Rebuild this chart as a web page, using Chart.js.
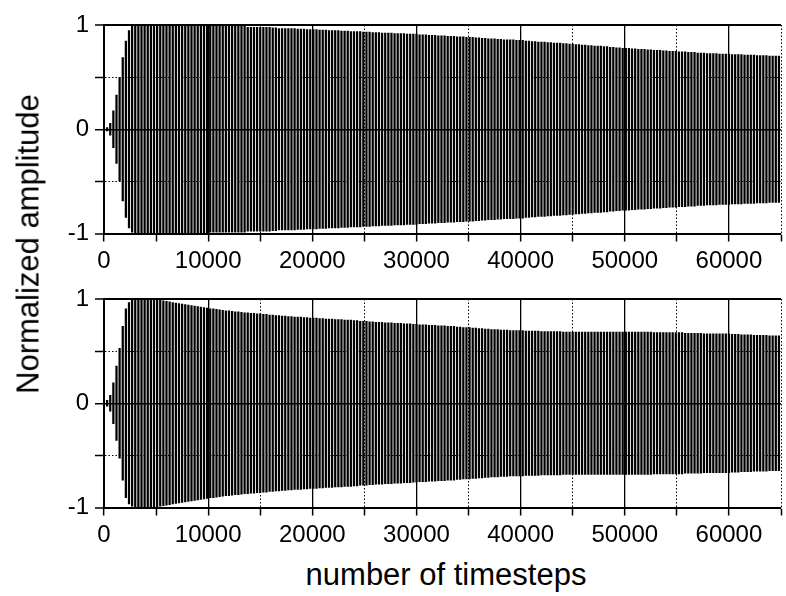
<!DOCTYPE html>
<html>
<head>
<meta charset="utf-8">
<script src="https://cdn.jsdelivr.net/npm/chart.js@4"></script>
<style>
  body { margin: 0; background: #fff; }
  #wrap { position: relative; width: 786px; height: 596px; overflow: hidden; font-family: "Liberation Sans", Arial, sans-serif; }
  .panel { position: absolute; left: 0; width: 786px; height: 274px; }
  #topPanel { top: 0; }
  #bottomPanel { top: 274px; }
  .axis-title { position: absolute; font-size: 31px; line-height: 31px; white-space: nowrap; color: #000; }
  #yTitle { left: 28px; top: 244px; transform: translate(-50%, -50%) rotate(-90deg); }
  #xTitle { left: 446px; top: 574px; transform: translate(-50%, -50%); }
</style>
</head>
<body>
<div id="wrap">
  <div class="panel" id="topPanel"><canvas id="topChart"></canvas></div>
  <div class="panel" id="bottomPanel"><canvas id="bottomChart"></canvas></div>
  <div class="axis-title" id="yTitle">Normalized amplitude</div>
  <div class="axis-title" id="xTitle">number of timesteps</div>
</div>
<script>
// one peak amplitude per oscillation cycle, cycles are sampleStep timesteps apart
const sampleStep = 300;

const topAmplitude = [
  0, 0.02, 0.06, 0.18, 0.33, 0.5, 0.69, 0.85, 0.95, 0.99,
  1, 1, 1, 1, 1, 1, 1, 1, 1, 1,
  1, 1, 1, 1, 1, 1, 1, 1, 1, 1,
  1, 1, 1, 1, 0.99, 0.99, 0.99, 0.99, 0.99, 0.99,
  0.99, 0.99, 0.99, 0.99, 0.99, 0.99, 0.98, 0.98, 0.98, 0.98,
  0.98, 0.98, 0.98, 0.98, 0.975, 0.975, 0.97, 0.97, 0.97, 0.97,
  0.97, 0.97, 0.965, 0.965, 0.965, 0.96, 0.96, 0.96, 0.96, 0.955,
  0.955, 0.955, 0.95, 0.95, 0.95, 0.95, 0.945, 0.945, 0.945, 0.94,
  0.94, 0.94, 0.94, 0.935, 0.935, 0.935, 0.93, 0.93, 0.93, 0.925,
  0.925, 0.925, 0.925, 0.92, 0.92, 0.92, 0.92, 0.915, 0.915, 0.915,
  0.915, 0.91, 0.91, 0.91, 0.905, 0.905, 0.905, 0.9, 0.9, 0.9,
  0.895, 0.895, 0.895, 0.89, 0.89, 0.89, 0.885, 0.885, 0.885, 0.88,
  0.88, 0.875, 0.875, 0.87, 0.87, 0.87, 0.865, 0.865, 0.86, 0.86,
  0.86, 0.86, 0.855, 0.855, 0.855, 0.85, 0.85, 0.845, 0.845, 0.84,
  0.84, 0.84, 0.835, 0.835, 0.83, 0.83, 0.83, 0.825, 0.825, 0.82,
  0.82, 0.815, 0.815, 0.81, 0.81, 0.805, 0.805, 0.8, 0.8, 0.8,
  0.795, 0.795, 0.79, 0.79, 0.785, 0.785, 0.78, 0.78, 0.78, 0.775,
  0.775, 0.77, 0.77, 0.77, 0.765, 0.765, 0.76, 0.76, 0.76, 0.755,
  0.755, 0.75, 0.75, 0.75, 0.745, 0.745, 0.745, 0.74, 0.74, 0.74,
  0.735, 0.735, 0.735, 0.73, 0.73, 0.73, 0.73, 0.725, 0.725, 0.725,
  0.725, 0.72, 0.72, 0.72, 0.72, 0.715, 0.715, 0.715, 0.715, 0.71,
  0.71, 0.71, 0.71, 0.705, 0.705, 0.705, 0.705
];

const bottomAmplitude = [
  0, 0.03, 0.08, 0.2, 0.36, 0.53, 0.74, 0.91, 0.97, 0.99,
  1, 1, 1, 1, 1, 1, 1, 0.995, 0.99, 0.985,
  0.98, 0.975, 0.97, 0.965, 0.96, 0.955, 0.95, 0.945, 0.94, 0.935,
  0.93, 0.925, 0.92, 0.915, 0.91, 0.91, 0.905, 0.9, 0.895, 0.89,
  0.89, 0.885, 0.88, 0.88, 0.875, 0.87, 0.87, 0.865, 0.865, 0.86,
  0.86, 0.855, 0.855, 0.85, 0.85, 0.845, 0.845, 0.84, 0.84, 0.835,
  0.835, 0.83, 0.83, 0.83, 0.825, 0.825, 0.82, 0.82, 0.82, 0.815,
  0.815, 0.81, 0.81, 0.81, 0.805, 0.805, 0.805, 0.8, 0.8, 0.8,
  0.795, 0.795, 0.79, 0.79, 0.79, 0.785, 0.785, 0.78, 0.78, 0.78,
  0.775, 0.775, 0.775, 0.77, 0.77, 0.77, 0.765, 0.765, 0.765, 0.76,
  0.76, 0.755, 0.755, 0.755, 0.75, 0.75, 0.75, 0.745, 0.745, 0.745,
  0.74, 0.74, 0.74, 0.735, 0.735, 0.73, 0.73, 0.73, 0.725, 0.725,
  0.72, 0.72, 0.715, 0.715, 0.71, 0.71, 0.71, 0.705, 0.705, 0.705,
  0.7, 0.7, 0.7, 0.7, 0.7, 0.695, 0.695, 0.695, 0.695, 0.695,
  0.69, 0.69, 0.69, 0.69, 0.69, 0.69, 0.69, 0.685, 0.685, 0.685,
  0.685, 0.685, 0.685, 0.685, 0.685, 0.685, 0.685, 0.685, 0.685, 0.685,
  0.685, 0.685, 0.685, 0.685, 0.685, 0.685, 0.685, 0.685, 0.685, 0.685,
  0.685, 0.685, 0.685, 0.685, 0.685, 0.685, 0.68, 0.68, 0.68, 0.68,
  0.68, 0.68, 0.68, 0.68, 0.68, 0.68, 0.675, 0.675, 0.675, 0.675,
  0.675, 0.675, 0.67, 0.67, 0.67, 0.67, 0.67, 0.67, 0.67, 0.67,
  0.668, 0.665, 0.665, 0.665, 0.66, 0.66, 0.66, 0.66, 0.655, 0.655,
  0.655, 0.655, 0.655, 0.65, 0.65, 0.65, 0.65
];

const xTickLabels = ['0', '10000', '20000', '30000', '40000', '50000', '60000'];
const yTickLabels = ['-1', '0', '1'];

const tickFont = { family: '"Liberation Sans", Arial, sans-serif', size: 24 };

function isMinor(ctx, major) {
  return ctx.tick && Math.abs(ctx.tick.value % major) > 1e-9;
}

function makePanel(canvasId, amplitude) {
  const ctx = document.getElementById(canvasId).getContext('2d');
  // each cycle is a vertical stroke from the trough to the peak
  const points = amplitude.map((a, i) => ({ x: i * sampleStep, y: [-a, a] }));

  return new Chart(ctx, {
    type: 'bar',
    data: {
      datasets: [{
        data: points,
        backgroundColor: '#000',
        borderWidth: 0,
        barPercentage: 0.72,
        categoryPercentage: 1
      }]
    },
    options: {
      responsive: true,
      maintainAspectRatio: false,
      animation: false,
      layout: { padding: { top: 25, right: 1, left: 0, bottom: 0 } },
      plugins: {
        legend: { display: false },
        tooltip: { enabled: false }
      },
      scales: {
        x: {
          type: 'linear',
          min: 0,
          max: 65000,
          offset: false,
          afterFit: s => { s.height = 40.5; },
          ticks: {
            stepSize: 5000,
            autoSkip: false,
            maxRotation: 0,
            padding: 5,
            color: '#000',
            font: tickFont,
            callback: v => xTickLabels.includes(String(v)) ? String(v) : ''
          },
          grid: {
            offset: false,
            z: 1,
            color: '#000',
            lineWidth: c => isMinor(c, 10000) ? 1 : 1.3,
            tickLength: 8,
            tickWidth: 1.5,
            tickColor: '#000'
          },
          border: {
            z: 1,
            color: '#000',
            width: 2,
            dash: c => isMinor(c, 10000) ? [1.5, 2] : []
          }
        },
        y: {
          min: -1,
          max: 1,
          afterFit: s => { s.width = 104; },
          ticks: {
            stepSize: 0.5,
            padding: 6,
            color: '#000',
            font: tickFont,
            callback: v => yTickLabels.includes(String(v)) ? String(v) : ''
          },
          grid: {
            z: 1,
            color: '#000',
            lineWidth: c => (c.tick && Math.abs(c.tick.value) === 1) ? 2 : (isMinor(c, 1) ? 1 : 1.5),
            tickLength: 9,
            tickWidth: 1.5,
            tickColor: '#000'
          },
          border: {
            z: 1,
            color: '#000',
            width: 2,
            dash: c => isMinor(c, 1) ? [1.5, 2] : []
          }
        }
      }
    }
  });
}

makePanel('topChart', topAmplitude);
makePanel('bottomChart', bottomAmplitude);
</script>
</body>
</html>
